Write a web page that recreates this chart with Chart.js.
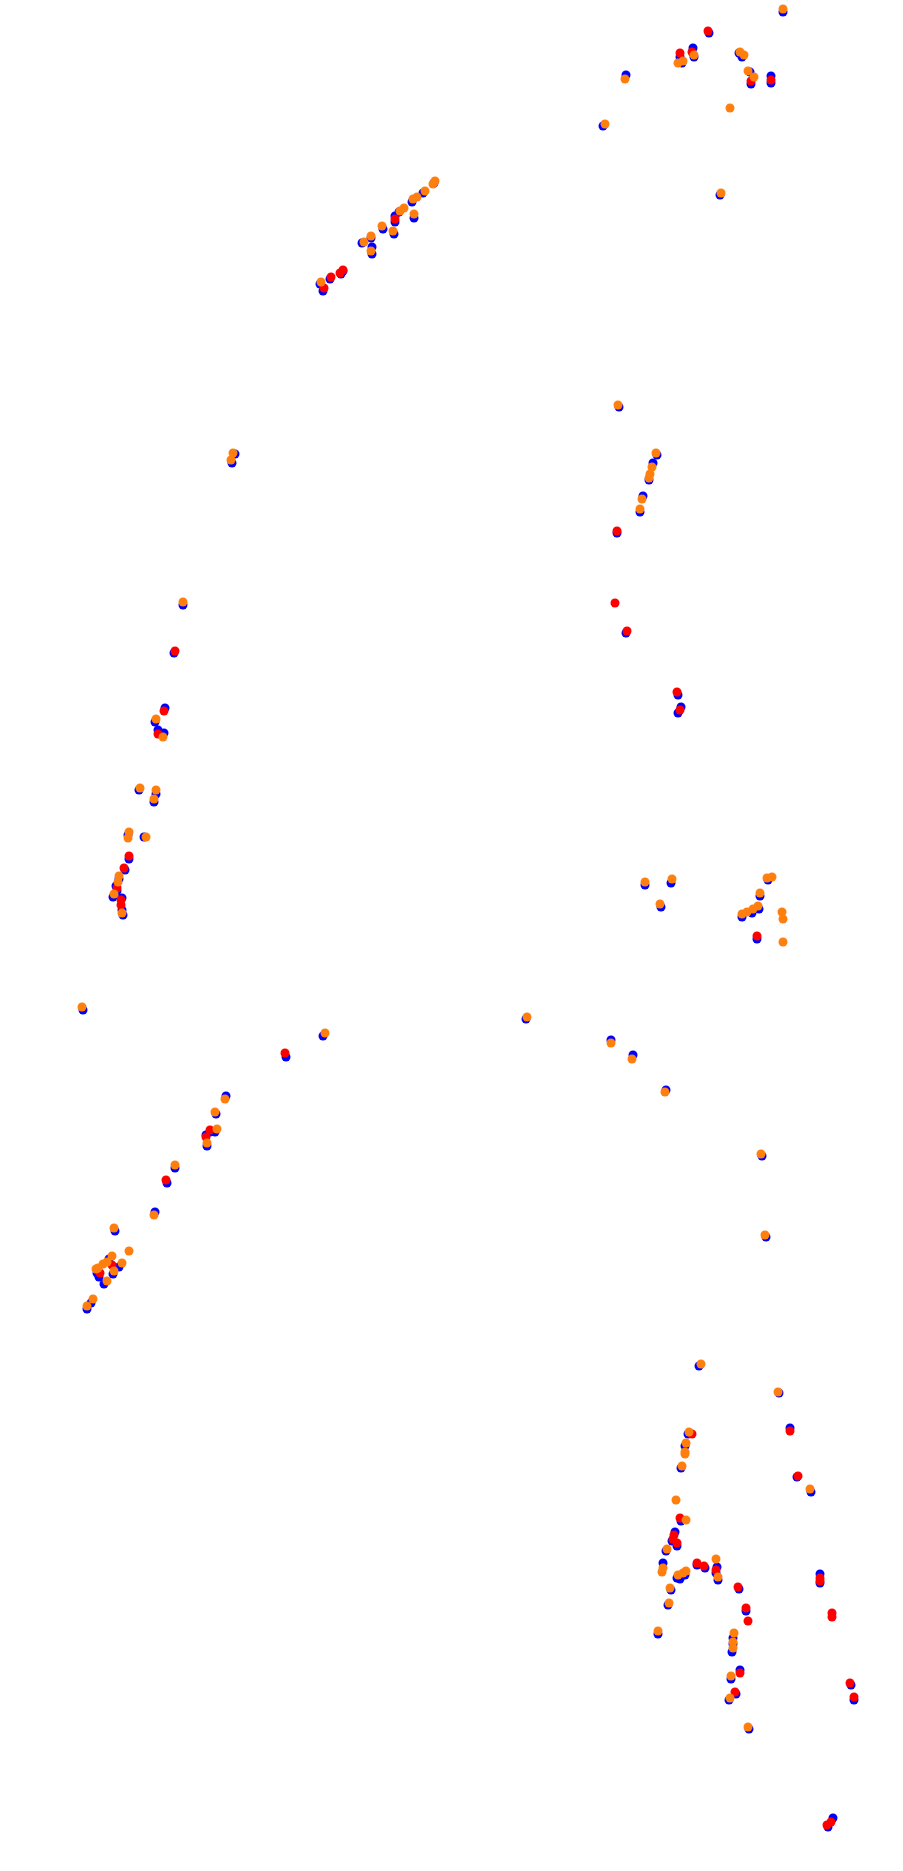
<!DOCTYPE html>
<html>
<head>
<meta charset="utf-8">
<script src="https://cdn.jsdelivr.net/npm/chart.js@4/dist/chart.umd.min.js"></script>
<style>
  html, body { margin: 0; padding: 0; background: #fff; }
  #plot { display: block; }
</style>
</head>
<body>
<canvas id="plot" width="903" height="1871"></canvas>
<script>
// Points (x, y in plot units)
const orangeX = [783,678,683,694,740,744,748,754,625,605,730,721,
  435,433,425,417,413,404,400,414,382,393,371,364,371,321,
  233,231,618,656,652,650,649,642,640,
  183,156,163,140,156,154,129,128,146,119,118,114,122,
  82,325,225,215,217,207,175,154,114,129,
  112,122,107,103,98,96,114,107,93,87,
  645,672,660,772,767,760,758,753,747,742,782,783,783,
  527,611,632,665,761,765,
  701,778,810,689,686,685,685,682,676,686,667,663,662,716,718,686,683,678,670,669,658,734,733,733,731,730,748];
const orangeY = [9,63,61,55,52,55,71,77,79,124,108,193,
  181,184,191,197,199,208,211,214,226,231,236,242,251,282,
  453,460,405,453,467,474,478,499,509,
  602,719,737,788,790,799,832,838,837,876,882,894,913,
  1007,1033,1099,1112,1129,1143,1165,1215,1228,1251,
  1256,1263,1262,1264,1268,1269,1271,1281,1299,1306,
  882,879,904,877,878,893,906,909,912,914,912,919,942,
  1017,1043,1059,1092,1154,1235,
  1364,1392,1489,1432,1443,1452,1454,1466,1500,1520,1549,1568,1572,1559,1577,1571,1573,1575,1588,1603,1631,1633,1642,1648,1676,1698,1727];

const redX = [708,680,692,751,771,
  395,343,340,331,324,
  617,615,627,677,680,
  175,164,158,129,124,117,121,121,
  285,210,206,166,112,100,
  757,
  790,798,692,680,674,673,677,697,704,716,738,746,748,820,820,832,832,740,735,850,854,831,827];
const redY = [31,53,52,81,80,
  219,270,273,277,288,
  531,603,631,692,710,
  651,711,734,856,868,888,900,905,
  1053,1130,1137,1180,1265,1273,
  936,
  1431,1476,1434,1518,1535,1539,1543,1563,1566,1570,1587,1608,1621,1578,1581,1613,1617,1673,1692,1683,1697,1822,1825];

const blueX = [783,709,680,682,693,694,739,742,750,751,771,771,626,603,720,
  423,412,399,395,395,414,383,394,362,372,372,343,330,323,320,434,371,341,
  235,232,619,657,653,649,643,640,617,626,678,681,678,
  183,174,165,155,158,164,139,156,154,128,144,129,125,116,113,122,122,123,119,117,
  83,323,286,226,216,215,206,207,175,167,155,115,109,119,97,99,113,104,91,87,210,
  645,671,661,768,760,742,752,759,757,
  526,611,633,666,762,766,
  699,779,790,797,811,688,685,681,681,675,672,677,666,663,697,705,717,716,718,677,680,685,671,668,739,746,820,820,658,733,733,732,740,731,736,729,749,851,854,833,828];
const blueY = [12,33,57,63,48,57,53,57,72,84,76,83,75,126,195,
  193,202,212,216,222,218,229,234,243,247,254,271,279,291,284,183,238,274,
  454,463,407,455,463,480,496,512,533,633,695,707,713,
  605,653,708,722,730,733,790,794,802,835,837,859,870,886,897,898,910,915,879,891,
  1010,1036,1057,1096,1114,1132,1135,1146,1168,1183,1212,1231,1259,1267,1273,1277,1274,1284,1303,1309,1132,
  885,883,907,880,896,917,913,909,939,
  1019,1040,1055,1090,1156,1237,
  1366,1393,1428,1477,1492,1434,1446,1468,1521,1532,1541,1546,1551,1563,1565,1568,1567,1573,1580,1578,1579,1575,1590,1605,1589,1611,1574,1583,1634,1638,1644,1652,1670,1679,1694,1700,1729,1685,1700,1818,1827];

function toPoints(xs, ys) {
  return xs.map((x, i) => ({ x: x, y: ys[i] }));
}

const ctx = document.getElementById('plot').getContext('2d');
new Chart(ctx, {
  type: 'scatter',
  data: {
    datasets: [
      { label: 'blue', data: toPoints(blueX, blueY), backgroundColor: '#0000ff', order: 3 },
      { label: 'red', data: toPoints(redX, redY), backgroundColor: '#ff0000', order: 2 },
      { label: 'orange', data: toPoints(orangeX, orangeY), backgroundColor: 'rgb(255,127,14)', order: 1 }
    ]
  },
  options: {
    responsive: false,
    animation: false,
    // no auto padding, so the plot fills the whole canvas
    layout: { padding: 0, autoPadding: false },
    elements: {
      point: { radius: 4.5, borderWidth: 0, hoverRadius: 4.5 }
    },
    plugins: {
      legend: { display: false },
      tooltip: { enabled: false }
    },
    scales: {
      x: { type: 'linear', min: 0, max: 903, display: false },
      y: { type: 'linear', min: 0, max: 1871, reverse: true, display: false }
    }
  }
});
</script>
</body>
</html>
